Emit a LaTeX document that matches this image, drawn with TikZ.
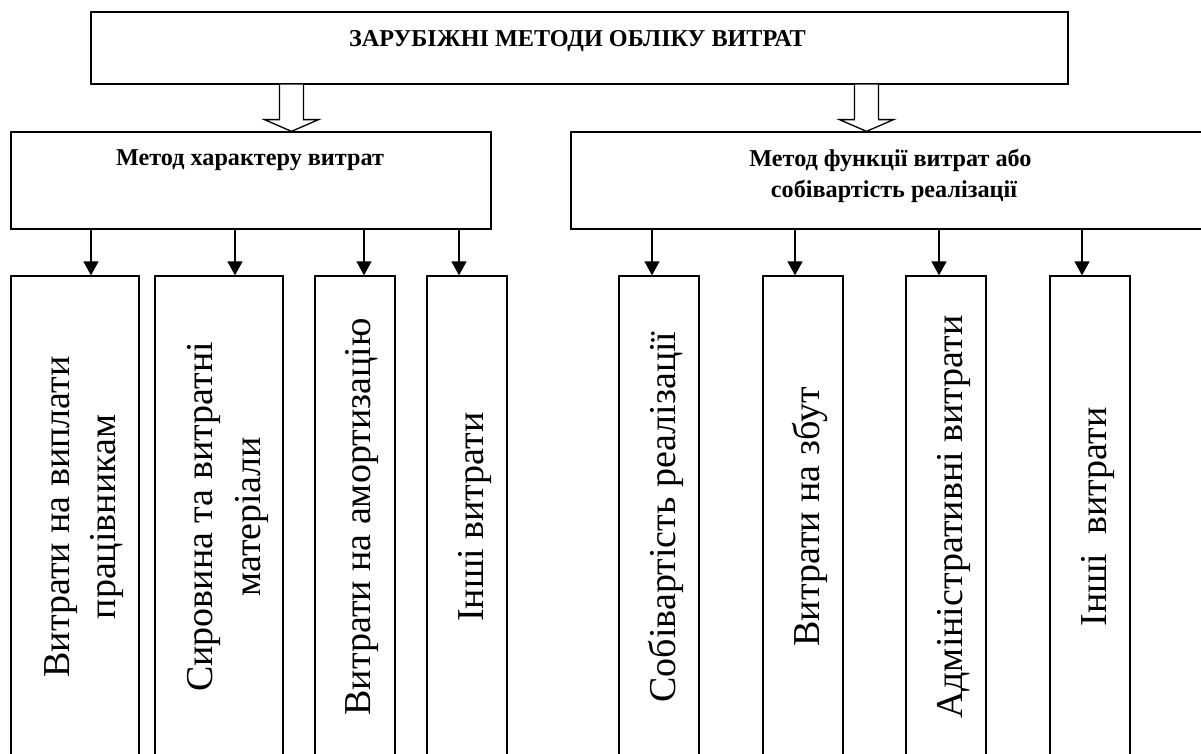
\documentclass[tikz,border=0pt]{standalone}
\usepackage{fontspec}
\setmainfont{Liberation Serif}
\usetikzlibrary{arrows.meta,calc}
\begin{document}
\begin{tikzpicture}[x=1pt,y=-1pt,
  box/.style={draw, line width=1.3pt, inner sep=0pt, rectangle},
  head/.style={font=\bfseries\fontsize{24.2}{30}\selectfont, inner sep=0pt},
  leaf/.style={font=\fontsize{38}{46}\selectfont, rotate=90, inner sep=0pt, anchor=base},
  conn/.style={line width=1.3pt, -{Triangle[width=15pt,length=14pt]}},
  hollow/.style={draw, line width=1.3pt, fill=white, line join=miter}]
\useasboundingbox (0,0) rectangle (1201,754);
\clip (0,0) rectangle (1201,754);
% top box
\node[box, minimum width=977pt, minimum height=72pt] (top) at (579.5,48) {};
\node[head, anchor=base] (title) at (577.5,47) {ЗАРУБІЖНІ МЕТОДИ ОБЛІКУ ВИТРАТ};
% middle boxes
\node[box, minimum width=480pt, minimum height=97pt] (m1) at (251,180.5) {};
\node[head, anchor=base] (m1t) at (250,166) {Метод характеру витрат};
\node[box, minimum width=641pt, minimum height=97pt] (m2) at (891.5,180.5) {};
\node[head, anchor=base] (m2ta) at (890.5,167) {Метод функції витрат або};
\node[head, anchor=base] (m2tb) at (894,197) {собівартість реалізації};
% hollow arrows
\coordinate (h1) at (291.5,0);
\coordinate (h2) at (866.5,0);
\foreach \h/\m in {h1/m1, h2/m2}{
  \draw[hollow] ($(top.south -| \h)+(-12,0)$) -- ++(0,35) -- ++(-15,0)
     -- (\m.north -| \h) -- ($(top.south -| \h)+(27,35)$) -- ++(-15,0) -- ++(0,-35);
}
% bottom boxes
\foreach \n/\cx/\w in {b1/75/128, b2/219/128, b3/355/80, b4/467/80,
                       b5/659/80, b6/803/80, b7/946/80, b8/1090/80}{
  \node[box, minimum width=\w pt, minimum height=484pt] (\n) at (\cx,518) {};
}
% bottom texts
\node[leaf] (t1a) at (69,517) {Витрати на виплати};
\node[leaf] (t1b) at (115,517) {працівникам};
\node[leaf] (t2a) at (212,517) {Сировина та витратні};
\node[leaf] (t2b) at (260,517) {матеріали};
\node[leaf] (t3) at (370,517) {Витрати на амортизацію};
\node[leaf] (t4) at (483,517) {Інші витрати};
\node[leaf] (t5) at (675,517) {Собівартість реалізації};
\node[leaf] (t6) at (819,517) {Витрати на збут};
\node[leaf] (t7) at (962,517) {Адміністративні витрати};
\node[leaf] (t8) at (1106,517) {Інші\ \ витрати};
% connectors
\foreach \x/\m/\b in {91/m1/b1, 235/m1/b2, 364/m1/b3, 459/m1/b4,
                      652/m2/b5, 795/m2/b6, 939/m2/b7, 1082/m2/b8}{
  \coordinate (a\b) at (\x,0);
  \draw[conn] (\m.south -| a\b) -- (\b.north -| a\b);
}
\end{tikzpicture}
\end{document}
